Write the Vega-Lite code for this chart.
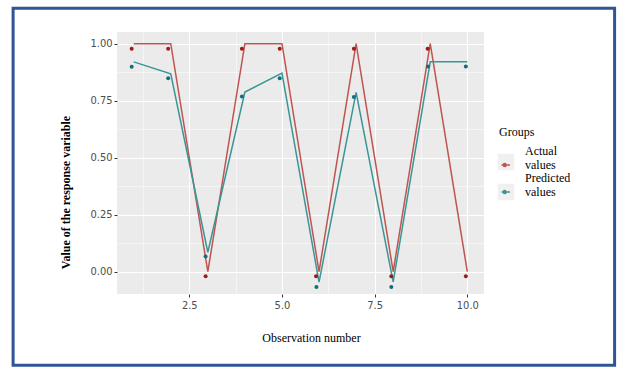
{
  "$schema": "https://vega.github.io/schema/vega-lite/v6.json",
  "width": 367,
  "height": 262,
  "autosize": {"type": "none"},
  "padding": {"left": 117, "top": 32, "right": 144, "bottom": 85},
  "background": "white",
  "config": {
    "view": {"fill": "#ebebeb", "stroke": null},
    "axis": {
      "labelFont": "Liberation Sans Narrow, DejaVu Sans Condensed, sans-serif",
      "labelFontSize": 11,
      "labelColor": "#4d4d4d",
      "tickColor": "#333333",
      "tickSize": 3,
      "tickWidth": 1,
      "domain": false,
      "gridColor": "#ffffff",
      "gridOpacity": 1,
      "titleFont": "Liberation Serif",
      "titleFontSize": 12,
      "titleColor": "#000000"
    }
  },
  "data": {
    "values": [
      {"obs": 1, "group": "Actual values", "fitted": 1.0, "jx": 0.946, "jy": 0.977},
      {"obs": 2, "group": "Actual values", "fitted": 1.0, "jx": 1.93, "jy": 0.977},
      {"obs": 3, "group": "Actual values", "fitted": 0.0, "jx": 2.94, "jy": -0.02},
      {"obs": 4, "group": "Actual values", "fitted": 1.0, "jx": 3.92, "jy": 0.977},
      {"obs": 5, "group": "Actual values", "fitted": 1.0, "jx": 4.94, "jy": 0.977},
      {"obs": 6, "group": "Actual values", "fitted": 0.0, "jx": 5.92, "jy": -0.02},
      {"obs": 7, "group": "Actual values", "fitted": 1.0, "jx": 6.94, "jy": 0.977},
      {"obs": 8, "group": "Actual values", "fitted": 0.0, "jx": 7.95, "jy": -0.02},
      {"obs": 9, "group": "Actual values", "fitted": 1.0, "jx": 8.93, "jy": 0.977},
      {"obs": 10, "group": "Actual values", "fitted": 0.0, "jx": 9.96, "jy": -0.02},
      {"obs": 1, "group": "Predicted values", "fitted": 0.92, "jx": 0.946, "jy": 0.899},
      {"obs": 2, "group": "Predicted values", "fitted": 0.868, "jx": 1.93, "jy": 0.848},
      {"obs": 3, "group": "Predicted values", "fitted": 0.085, "jx": 2.94, "jy": 0.066},
      {"obs": 4, "group": "Predicted values", "fitted": 0.788, "jx": 3.92, "jy": 0.768},
      {"obs": 5, "group": "Predicted values", "fitted": 0.871, "jx": 4.94, "jy": 0.848},
      {"obs": 6, "group": "Predicted values", "fitted": -0.046, "jx": 5.93, "jy": -0.067},
      {"obs": 7, "group": "Predicted values", "fitted": 0.786, "jx": 6.94, "jy": 0.766},
      {"obs": 8, "group": "Predicted values", "fitted": -0.045, "jx": 7.95, "jy": -0.067},
      {"obs": 9, "group": "Predicted values", "fitted": 0.92, "jx": 8.94, "jy": 0.9},
      {"obs": 10, "group": "Predicted values", "fitted": 0.92, "jx": 9.96, "jy": 0.9}
    ]
  },
  "resolve": {"axis": {"x": "independent", "y": "independent"}},
  "layer": [
    {
      "data": {"values": [{}]},
      "mark": {"type": "rect", "clip": false, "fill": null, "fillOpacity": 0, "stroke": "#2f5597", "strokeWidth": 3},
      "encoding": {
        "x": {"datum": -2.253, "type": "quantitative", "scale": {"domain": [0.55, 10.45], "nice": false, "zero": false},
              "axis": {"orient": "bottom", "values": [1.25, 3.75, 6.25, 8.75], "labels": false, "ticks": false, "title": null, "grid": true, "gridWidth": 0.5}},
        "x2": {"datum": 13.973},
        "y": {"datum": 1.1555, "type": "quantitative", "scale": {"domain": [-0.098, 1.051], "nice": false, "zero": false},
              "axis": {"orient": "left", "values": [0.125, 0.375, 0.625, 0.875], "labels": false, "ticks": false, "title": null, "grid": true, "gridWidth": 0.5}},
        "y2": {"datum": -0.41}
      }
    },
    {
      "mark": {"type": "line", "strokeWidth": 1.5},
      "encoding": {
        "x": {"field": "obs", "type": "quantitative", "scale": {"domain": [0.55, 10.45], "nice": false, "zero": false},
              "axis": {"orient": "bottom", "values": [2.5, 5, 7.5, 10], "format": ".1f", "grid": true, "gridWidth": 1.1,
                       "title": "Observation number", "titleX": 194, "titleY": 43, "titleBaseline": "middle", "titleAlign": "center", "titleFontWeight": "normal", "labelPadding": 2}},
        "y": {"field": "fitted", "type": "quantitative", "scale": {"domain": [-0.098, 1.051], "nice": false, "zero": false},
              "axis": {"orient": "left", "values": [0, 0.25, 0.5, 0.75, 1], "format": ".2f", "grid": true, "gridWidth": 1.1,
                       "title": "Value of the response variable", "titleX": -52, "titleY": 160, "titleAngle": -90, "titleBaseline": "middle", "titleAlign": "center", "titleFontWeight": "bold", "labelPadding": 2}},
        "stroke": {"field": "group", "type": "nominal",
                   "scale": {"domain": ["Actual values", "Predicted values"], "range": ["#bf5550", "#3a9696"]},
                   "legend": {
                     "orient": "none", "legendX": 382, "legendY": 95, "zindex": 2,
                     "title": "Groups", "titleFont": "Liberation Serif", "titleFontSize": 12, "titleFontWeight": "normal", "titleColor": "#000000", "titlePadding": 13,
                     "labelFont": "Liberation Serif", "labelFontSize": 12, "labelColor": "#000000", "labelOffset": 14,
                     "labelExpr": "split(datum.label, ' ')", "labelBaseline": "bottom",
                     "symbolType": "M-0.7,1.4H1M-0.35,1.4A0.3,0.3,0,1,1,0.25,1.4A0.3,0.3,0,1,1,-0.35,1.4Z",
                     "symbolSize": 100, "symbolStrokeWidth": 1.4, "rowPadding": 1
                   }}
      }
    },
    {
      "mark": {"type": "point", "filled": true, "size": 16},
      "encoding": {
        "x": {"field": "jx", "type": "quantitative", "scale": {"domain": [0.55, 10.45], "nice": false, "zero": false}, "axis": null},
        "y": {"field": "jy", "type": "quantitative", "scale": {"domain": [-0.098, 1.051], "nice": false, "zero": false}, "axis": null},
        "fill": {"field": "group", "type": "nominal",
                 "scale": {"domain": ["Actual values", "Predicted values"], "range": ["#9e1a1a", "#0f6f7c"]},
                 "legend": null},
        "opacity": {"field": "group", "type": "ordinal",
                    "scale": {"domain": ["Predicted values", "Actual values"], "range": [1, 1]},
                    "legend": {
                      "orient": "none", "legendX": 380, "legendY": 121, "zindex": 1,
                      "values": ["Actual values", "Predicted values"],
                      "title": null, "labelExpr": "''", "labelOffset": 0,
                      "symbolType": "square", "symbolSize": 289, "symbolFillColor": "#f0f0f0", "symbolStrokeColor": "#ffffff", "symbolStrokeWidth": 0.5,
                      "rowPadding": 10
                    }}
      }
    }
  ]
}
